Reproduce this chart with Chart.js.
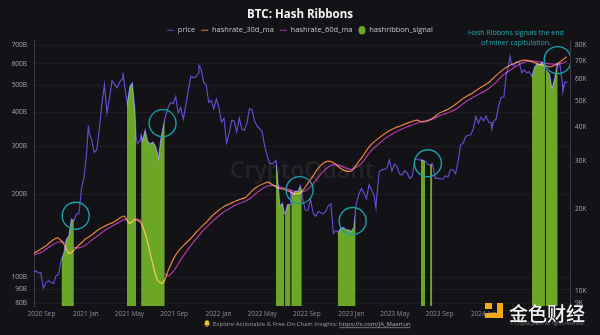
<!DOCTYPE html>
<html>
<head>
<meta charset="utf-8">
<title>BTC: Hash Ribbons</title>
<script src="https://cdn.jsdelivr.net/npm/chart.js@4.4.1/dist/chart.umd.min.js"></script>
<style>
  html, body { margin: 0; padding: 0; background: #131317; }
  #wrap { position: relative; width: 600px; height: 335px; }
</style>
</head>
<body>
<div id="wrap"><canvas id="hashChart"></canvas></div>
<script>
// weekly BTC close (USD), one value per Sunday starting 2020-08-09
const priceStart = '2020-08-09';
const priceWeekly = [
  11700, 11850, 11650, 11700, 10250, 10700, 10920, 10780, 10670, 11390, 11500, 13030, 13740, 15480, 15960, 18400, 18180, 19150, 19260, 23860, 26270,
  32000, 38150, 36000, 32290, 33110, 39270, 48720, 57400, 45140, 51200, 59300, 57520, 55800, 58730, 60200, 56150, 49000, 56620, 58240, 46430, 34770, 35680,
  35800, 39100, 35600, 34700, 35290, 34240, 31800, 35400, 39900, 43800, 47100, 49300, 48800, 51760, 45160, 47300, 42800, 48200, 54970, 61550, 60900, 61300,
  63300, 65500, 58600, 57250, 49400, 50100, 46700, 50800,
  47300, 41800, 43100, 35000, 37900, 42400, 42200, 38400, 43200, 39400, 39000, 41300, 46800, 46400, 42200, 40400, 39500, 38500, 34100, 31300, 29400, 29400,
  29900, 26600, 20550, 21030, 19300, 20800, 20800, 22600, 23300, 23200, 24400, 21500, 19800, 19800, 21800, 19400, 18800, 19600, 19400, 19200, 19600, 20600,
  20900, 16300, 16700, 16500, 17100, 17100, 16800, 16800,
  16600, 17100, 20900, 22700, 23800, 22900, 21800, 24600, 23500, 22400, 22100, 27400, 27900, 28000, 28300, 30300, 27600, 29300, 28700, 26900, 26700, 27700,
  27200, 25900, 26500, 30500, 30600, 30200, 30300, 30000, 29300, 29000, 29300, 26000, 26000, 25800, 25800, 26500, 26200, 27900, 27900, 27000, 29900, 34500,
  35000, 37000, 37400, 37500, 39500, 43800, 41400, 43600, 42200,
  44000, 41700, 41600, 42000, 43000, 48300, 51600, 51700, 63000, 68400, 68300, 67200, 69600, 69400, 63500, 64900, 63400, 64000, 61500, 66300, 68500, 67700,
  69600, 66600, 64300, 62700, 55900, 60800, 68200, 68200, 58000, 58700, 58400
];

// daily closes added at signal edges and sharp moves
const priceExtraDates = [
  '2020-10-26', '2021-01-08', '2021-04-13', '2021-04-24', '2021-05-19', '2021-06-02', '2021-07-20', '2021-08-06', '2021-11-08',
  '2022-06-08', '2022-07-01', '2022-07-02', '2022-07-18', '2022-07-19', '2022-07-20', '2022-08-18', '2022-11-25',
  '2023-01-13', '2023-03-10', '2023-07-12', '2023-08-12',
  '2024-01-23', '2024-03-13', '2024-06-17', '2024-06-18', '2024-06-19', '2024-07-05', '2024-07-22', '2024-08-05'
];
const priceExtraValues = [
  13070, 40600, 63500, 50100, 37000, 37570, 30800, 42800, 67500,
  30200, 19300, 19250, 22400, 23400, 23200, 23200, 16500,
  19900, 20200, 30400, 29400,
  39500, 73000, 66500, 65100, 65000, 56700, 67600, 54000
];

// hashrate moving averages, on the 1st and 16th of each month from 2020-08-01
const hashrate30d = [
  121, 123, 127, 131, 136, 139, 132, 122, 126, 132,
  138, 142, 148, 152, 155, 158, 163, 167, 157, 162, 158, 140, 116, 98, 95, 106, 118, 126, 132, 138, 146, 153, 160, 168,
  175, 181, 185, 189, 192, 195, 205, 213, 218, 222, 216, 211, 209, 205, 201, 204, 217, 232, 248, 260, 265, 260, 250, 244,
  244, 258, 275, 295, 308, 320, 332, 342, 350, 356, 363, 369, 374, 368, 372, 382, 397, 405, 415, 428, 445, 458, 470, 485,
  500, 515, 540, 562, 580, 595, 608, 618, 618, 608, 598, 592, 585, 594, 615, 637
];
const hashrate60d = [
  119, 121, 123, 127, 131, 134, 134, 130, 128, 128,
  131, 136, 141, 146, 150, 154, 158, 162, 162, 163, 161, 154, 138, 120, 105, 101, 106, 114, 122, 130, 138, 146, 153, 160,
  167, 173, 178, 183, 186, 189, 195, 203, 210, 215, 216, 214, 211, 208, 205, 204, 208, 217, 230, 243, 253, 257, 255, 250,
  247, 252, 262, 280, 293, 305, 318, 328, 337, 345, 352, 358, 364, 370, 374, 378, 388, 394, 401, 410, 425, 440, 452, 463,
  475, 490, 510, 535, 555, 572, 590, 605, 614, 614, 610, 604, 600, 598, 602, 612
];

// periods with the 30d MA under the 60d MA
const signalStart = ['2020-10-26', '2021-04-24', '2021-06-02', '2022-06-08', '2022-07-03', '2022-07-20', '2022-11-25', '2023-07-12', '2023-08-06', '2024-05-12', '2024-06-19'];
const signalEnd   = ['2020-11-29', '2021-05-19', '2021-08-06', '2022-07-01', '2022-07-18', '2022-08-18', '2023-01-13', '2023-07-23', '2023-08-12', '2024-06-17', '2024-07-22'];

// ringed buy signals
const markerDates  = ['2020-12-04', '2021-07-31', '2022-08-12', '2023-01-05', '2023-07-31', '2024-07-22'];
const markerPrices = [18900, 41400, 23500, 18100, 29500, 70600];

const noteLines = ['Hash Ribbons signals the end', 'of miner capitulation.'];
const noteDate = '2024-03-29';
const notePrice = 88800;

const xTickDates  = ['2020-09-01', '2021-01-01', '2021-05-01', '2021-09-01', '2022-01-01', '2022-05-01', '2022-09-01', '2023-01-01', '2023-05-01', '2023-09-01', '2024-01-01'];
const xTickLabels = ['2020 Sep', '2021 Jan', '2021 May', '2021 Sep', '2022 Jan', '2022 May', '2022 Sep', '2023 Jan', '2023 May', '2023 Sep', '2024 Jan'];
const hashTicks  = [80, 90, 100, 200, 300, 400, 500, 600, 700];
const priceTicks = [9000, 10000, 20000, 30000, 40000, 50000, 60000, 70000, 80000];

const FONT = "'Open Sans', 'Noto Sans', sans-serif";
const BG = '#131317';
const DAY_MS = 86400000;
const EPOCH = Date.UTC(2020, 0, 1);
const dayOf = s => (Date.parse(s + 'T00:00:00Z') - EPOCH) / DAY_MS;
const hashDay = i => (Date.UTC(2020, 7 + Math.floor(i / 2), i % 2 ? 16 : 1) - EPOCH) / DAY_MS;

const pricePoints = priceWeekly.map((v, i) => ({ x: dayOf(priceStart) + 7 * i, y: v }))
  .concat(priceExtraDates.map((d, i) => ({ x: dayOf(d), y: priceExtraValues[i] })))
  .sort((a, b) => a.x - b.x);
const hash30Points = hashrate30d.map((v, i) => ({ x: hashDay(i), y: v }));
const hash60Points = hashrate60d.map((v, i) => ({ x: hashDay(i), y: v }));

const inSignal = x => signalStart.some((s, k) => x >= dayOf(s) && x <= dayOf(signalEnd[k]));
const signalPoints = pricePoints.map(p => ({ x: p.x, y: inSignal(p.x) ? p.y : null }));
const markerPoints = markerDates.map((d, i) => ({ x: dayOf(d), y: markerPrices[i] }));

// price and 30d line are screened over the green so they stay readable on it
const screenBlend = {
  id: 'screenBlend',
  beforeDatasetDraw(chart, args) {
    if (args.index === 0 || args.index === 1) {
      chart.ctx.save();
      chart.ctx.globalCompositeOperation = 'screen';
    }
  },
  afterDatasetDraw(chart, args) {
    if (args.index === 0 || args.index === 1) chart.ctx.restore();
  }
};

const background = {
  id: 'background',
  beforeDraw(chart) {
    const ctx = chart.ctx;
    ctx.save();
    ctx.fillStyle = BG;
    ctx.fillRect(0, 0, chart.width, chart.height);
    ctx.restore();
  },
  beforeLayout(chart) {
    // keep the plot tight under the legend row
    const lg = chart.legend;
    if (lg && !lg._tight) {
      const fit = lg.fit;
      lg.fit = function () { fit.call(this); this.height = 19.5; };
      lg._tight = true;
    }
  }
};

const watermark = {
  id: 'watermark',
  beforeDatasetsDraw(chart) {
    const { ctx, chartArea: a } = chart;
    ctx.save();
    ctx.font = `600 23px ${FONT}`;
    ctx.fillStyle = 'rgba(255,255,255,0.075)';
    ctx.textAlign = 'center';
    ctx.textBaseline = 'middle';
    ctx.fillText('CryptoQuant', (a.left + a.right) / 2, a.top + 131);
    ctx.restore();
  }
};

const note = {
  id: 'note',
  afterDatasetsDraw(chart) {
    const ctx = chart.ctx;
    const x = chart.scales.x.getPixelForValue(dayOf(noteDate));
    const y = chart.scales.yPrice.getPixelForValue(notePrice);
    ctx.save();
    ctx.font = `7px ${FONT}`;
    ctx.fillStyle = '#22a7b1';
    ctx.textAlign = 'center';
    ctx.textBaseline = 'middle';
    noteLines.forEach((t, i) => ctx.fillText(t, x, y + i * 10));
    ctx.restore();
  }
};

const footer = {
  id: 'footer',
  afterDraw(chart) {
    const ctx = chart.ctx;
    ctx.save();
    // bell
    ctx.fillStyle = '#f2c230';
    ctx.beginPath();
    ctx.arc(207, 322.5, 2.2, Math.PI, 0);
    ctx.lineTo(209.4, 325.5);
    ctx.lineTo(204.6, 325.5);
    ctx.closePath();
    ctx.fill();
    ctx.fillRect(206.3, 325.8, 1.4, 1);

    ctx.textBaseline = 'middle';
    ctx.font = `6px ${FONT}`;
    const lead = 'Explore Actionable & Free On-Chain Insights: ';
    const link = 'https://x.com/JA_Maartun';
    ctx.fillStyle = '#9c9c9c';
    ctx.fillText(lead, 213, 324);
    const lx = 213 + ctx.measureText(lead).width;
    ctx.fillStyle = '#b4b4b4';
    ctx.fillText(link, lx, 324);
    ctx.fillRect(lx, 327.5, ctx.measureText(link).width, 0.6);

    ctx.font = `4.6px ${FONT}`;
    ctx.fillStyle = '#767676';
    ctx.fillText('\u00A9 CryptoQuant. All rights reserved.', 510, 324);

    // site badge
    ctx.fillStyle = '#f4a91b';
    ctx.fillRect(485, 303, 7, 6);
    ctx.fillRect(497, 303, 6, 15);
    ctx.fillRect(485, 313, 18, 5);
    ctx.font = `500 19px 'Noto Sans CJK SC', sans-serif`;
    ctx.fillStyle = '#f2f2f2';
    ctx.textBaseline = 'middle';
    ctx.fillText('金色财经', 509, 314);
    ctx.restore();
  }
};

new Chart(document.getElementById('hashChart'), {
  type: 'line',
  data: {
    datasets: [
      { label: 'price', data: pricePoints, yAxisID: 'yPrice', borderColor: '#5b3fd6', backgroundColor: '#5b3fd6',
        borderWidth: 1.1, pointRadius: 0, pointStyle: 'line', order: 2 },
      { label: 'hashrate_30d_ma', data: hash30Points, yAxisID: 'yHash', borderColor: '#e8772e', backgroundColor: '#e8772e',
        borderWidth: 1.2, tension: 0.25, pointRadius: 0, pointStyle: 'line', order: 1 },
      { label: 'hashrate_60d_ma', data: hash60Points, yAxisID: 'yHash', borderColor: '#b23aa8', backgroundColor: '#b23aa8',
        borderWidth: 1.2, tension: 0.25, pointRadius: 0, pointStyle: 'line', order: 4 },
      { label: 'hashribbon_signal', data: signalPoints, yAxisID: 'yPrice', borderColor: 'rgba(0,0,0,0)', backgroundColor: '#6ca626',
        borderWidth: 0, fill: 'start', spanGaps: false, pointRadius: 0, pointStyle: 'circle', order: 3 },
      { label: 'markers', data: markerPoints, yAxisID: 'yPrice', showLine: false, pointRadius: 13.5, pointBorderWidth: 1.4,
        pointBorderColor: '#1b9fa8', pointBackgroundColor: 'rgba(0,0,0,0)', order: 0 }
    ]
  },
  options: {
    responsive: true,
    maintainAspectRatio: false,
    animation: false,
    events: [],
    layout: { padding: { left: 0, right: 0, top: 0, bottom: 15 } },
    plugins: {
      tooltip: { enabled: false },
      title: {
        display: true,
        text: 'BTC: Hash Ribbons',
        color: '#f4f4f4',
        font: { family: FONT, size: 11.5, weight: 'bold', lineHeight: 1 },
        padding: { top: 9, bottom: 0 }
      },
      legend: {
        display: true,
        labels: {
          color: '#c4c4c4',
          font: { family: FONT, size: 7.5 },
          usePointStyle: true,
          pointStyleWidth: 7,
          boxHeight: 6,
          padding: 6,
          filter: item => item.datasetIndex < 4,
          sort: (a, b) => a.datasetIndex - b.datasetIndex
        }
      }
    },
    scales: {
      x: {
        type: 'linear',
        min: 223.3,
        max: 1697.9,
        afterBuildTicks: s => { s.ticks = xTickDates.map(d => ({ value: dayOf(d) })); },
        afterFit: s => { s.height = 14; },
        ticks: { color: '#8e8e8e', font: { family: FONT, size: 6.5 }, padding: 4.5, maxRotation: 0, autoSkip: false,
          callback: (v, i) => xTickLabels[i] },
        grid: { display: false, drawTicks: false },
        border: { display: false }
      },
      yHash: {
        type: 'logarithmic',
        position: 'left',
        min: 78.4,
        max: 733,
        afterBuildTicks: s => { s.ticks = hashTicks.map(v => ({ value: v })); },
        afterFit: s => { s.width = 34; },
        ticks: { color: '#a8a8a8', font: { family: FONT, size: 6.5 }, padding: 7, callback: v => v + 'B' },
        grid: { color: '#1d1d22', drawTicks: false },
        border: { color: '#3a3a40' }
      },
      yPrice: {
        type: 'logarithmic',
        position: 'right',
        min: 8810,
        max: 83700,
        afterBuildTicks: s => { s.ticks = priceTicks.map(v => ({ value: v })); },
        afterFit: s => { s.width = 30; },
        ticks: { color: '#a8a8a8', font: { family: FONT, size: 6.5 }, padding: 5, callback: v => (v / 1000) + 'K' },
        grid: { display: false, drawTicks: false },
        border: { color: '#3a3a40' }
      }
    }
  },
  plugins: [background, screenBlend, watermark, note, footer]
});
</script>
</body>
</html>
